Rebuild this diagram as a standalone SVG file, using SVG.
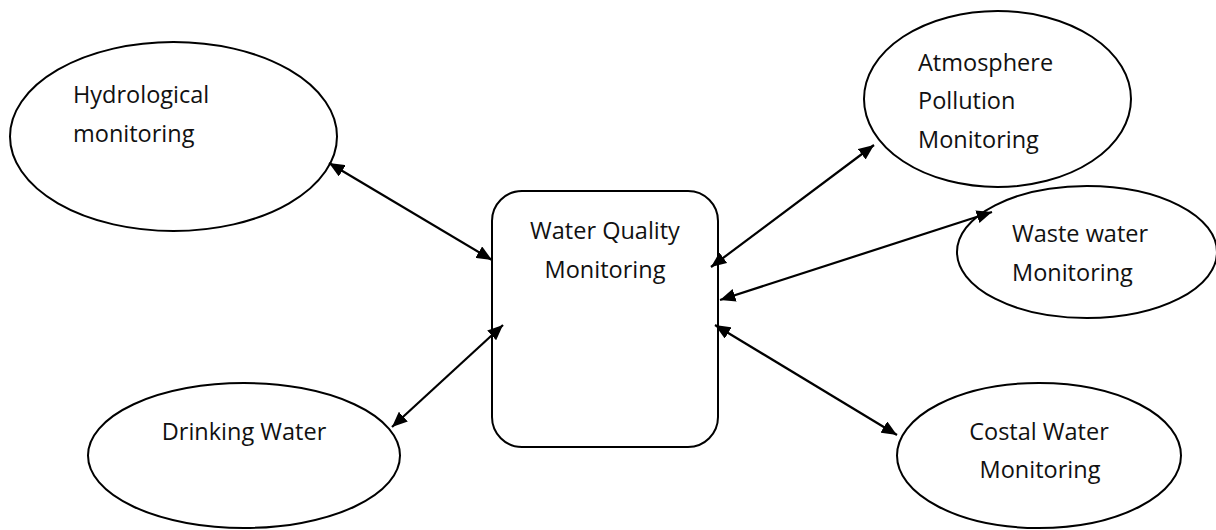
<svg xmlns="http://www.w3.org/2000/svg" width="1216" height="530" viewBox="0 0 1216 530">
<style>
.shape{fill:#fff;stroke:#000;stroke-width:2}
.t{font-family:"Open Sans","Noto Sans",sans-serif;font-size:23.5px;fill:#111}
.c{text-anchor:middle}
.conn line{stroke:#000;stroke-width:2.2;marker-start:url(#ah);marker-end:url(#ah)}
</style>
<defs>
<marker id="ah" viewBox="0 0 10 10" refX="10" refY="5" markerWidth="7" markerHeight="6" markerUnits="strokeWidth" orient="auto-start-reverse" preserveAspectRatio="none">
<path d="M0,0 L10,5 L0,10 z" fill="#000"/>
</marker>
</defs>
<rect width="1216" height="530" fill="#fff"/>
<g id="hydrological">
<ellipse class="shape" cx="173.5" cy="136.5" rx="163.5" ry="94.5"/>
<text class="t" x="73" y="103">Hydrological</text>
<text class="t" x="73" y="142">monitoring</text>
</g>
<g id="drinking">
<ellipse class="shape" cx="244" cy="455.5" rx="156" ry="72.5"/>
<text class="t c" x="244" y="440">Drinking Water</text>
</g>
<g id="water-quality">
<rect class="shape" x="492" y="191" width="226" height="256" rx="30" ry="30"/>
<text class="t c" x="605" y="239">Water Quality</text>
<text class="t c" x="605" y="278">Monitoring</text>
</g>
<g id="atmosphere">
<ellipse class="shape" cx="997.5" cy="99" rx="133.5" ry="88"/>
<text class="t" x="918" y="71">Atmosphere</text>
<text class="t" x="918" y="109">Pollution</text>
<text class="t" x="918" y="148">Monitoring</text>
</g>
<g id="waste">
<ellipse class="shape" cx="1087" cy="252" rx="130" ry="66"/>
<text class="t" x="1012" y="242">Waste water</text>
<text class="t" x="1012" y="281">Monitoring</text>
</g>
<g id="costal">
<ellipse class="shape" cx="1039" cy="455.5" rx="142" ry="72.5"/>
<text class="t c" x="1039" y="440">Costal Water</text>
<text class="t c" x="1040" y="478">Monitoring</text>
</g>
<g id="connectors" class="conn">
<line x1="329" y1="163" x2="492" y2="260"/>
<line x1="392" y1="427" x2="503" y2="325"/>
<line x1="711" y1="267" x2="874" y2="145"/>
<line x1="720" y1="300" x2="992" y2="212"/>
<line x1="715" y1="325" x2="897" y2="435"/>
</g>
</svg>
